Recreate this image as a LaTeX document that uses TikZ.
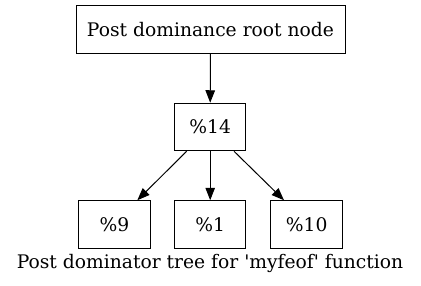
\documentclass[tikz,border=0pt]{standalone}
\usepackage{fontspec}
\setmainfont{DejaVu Serif}
\usetikzlibrary{arrows.meta}
\begin{document}
\begin{tikzpicture}[x=1pt,y=-1pt,
  treenode/.style={draw=black,line width=1pt,rectangle,inner sep=0pt,
    font=\fontsize{18.7}{22}\selectfont},
  edge/.style={line width=1pt,-{Triangle[length=12.5pt,width=9.5pt]}}]
\useasboundingbox (0,0) rectangle (421,285);
\node[treenode,minimum width=269pt,minimum height=47.5pt] (root) at (210.5,29.5) {Post dominance root node};
\node[treenode,minimum width=71.5pt,minimum height=47.5pt] (n14) at (210.2,127) {\%14};
\node[treenode,minimum width=72pt,minimum height=47.5pt] (n9) at (114.5,224.5) {\%9};
\node[treenode,minimum width=71.5pt,minimum height=47.5pt] (n1) at (210.2,224.5) {\%1};
\node[treenode,minimum width=72pt,minimum height=47.5pt] (n10) at (306.7,224.5) {\%10};
\node[anchor=base,inner sep=0pt,font=\fontsize{18.7}{22}\selectfont] (cap) at (210,268) {Post dominator tree for \textquotesingle myfeof\textquotesingle\ function};
\draw[edge] (root.south) -- (n14.north);
\draw[edge] ([xshift=-23.5pt]n14.south) -- ([xshift=22.8pt]n9.north);
\draw[edge] (n14.south) -- (n1.north);
\draw[edge] ([xshift=23.8pt]n14.south) -- ([xshift=-22.7pt]n10.north);
\end{tikzpicture}
\end{document}
